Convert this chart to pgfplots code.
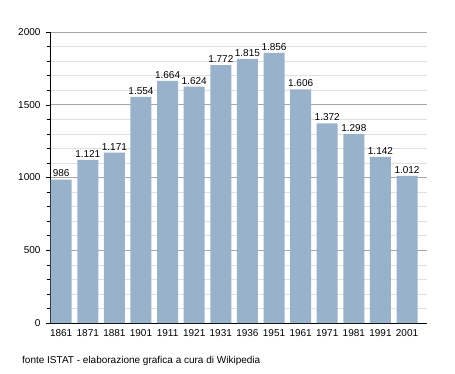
\documentclass[border=0pt]{standalone}
\usepackage{pgfplots}
\pgfplotsset{compat=1.18}
\usepackage{fontspec}
\setmainfont{Liberation Sans}
\definecolor{barc}{HTML}{98B2CB}
\begin{document}
\begin{tikzpicture}[x=1pt,y=1pt]
\useasboundingbox (-50,-50) rectangle (405,323);
\begin{axis}[
  at={(0,0)}, anchor=south west,
  scale only axis, width=377pt, height=291pt,
  xmin=-0.42, xmax=13.75, ymin=0, ymax=2000,
  axis x line*=bottom, axis y line*=left,
  axis line style={black, line width=0.6pt},
  xtick={0,...,13},
  xticklabels={1861,1871,1881,1901,1911,1921,1931,1936,1951,1961,1971,1981,1991,2001},
  x tick style={draw=none},
  ytick={0,500,1000,1500,2000},
  minor y tick num=4,
  tick align=outside,
  major tick length=4pt, minor tick length=3pt,
  y tick style={black, line width=0.5pt},
  ymajorgrids, yminorgrids,
  major grid style={color=black!35, line width=0.6pt},
  minor grid style={color=black!12, line width=0.6pt},
  tick label style={font=\fontsize{10}{12}\selectfont},
  yticklabel style={/pgf/number format/1000 sep={}},
  /pgf/number format/assume math mode=true,
  xticklabel style={yshift=1pt},
  yticklabel style={xshift=-2pt},
  bar width=21pt,
  nodes near coords,
  every node near coord/.append style={font=\fontsize{10}{12}\selectfont, /pgf/number format/1000 sep={.}, /pgf/number format/assume math mode=true, yshift=-1pt},
  clip=false,
]
\addplot[ybar, fill=barc, draw=none] coordinates {
(0,986) (1,1121) (2,1171) (3,1554) (4,1664) (5,1624) (6,1772) (7,1815) (8,1856) (9,1606) (10,1372) (11,1298) (12,1142) (13,1012)};
\end{axis}
\node[anchor=base west, font=\fontsize{10}{12}\selectfont, inner sep=0pt] at (-28,-40) {fonte ISTAT - elaborazione grafica a cura di Wikipedia};
\end{tikzpicture}
\end{document}
